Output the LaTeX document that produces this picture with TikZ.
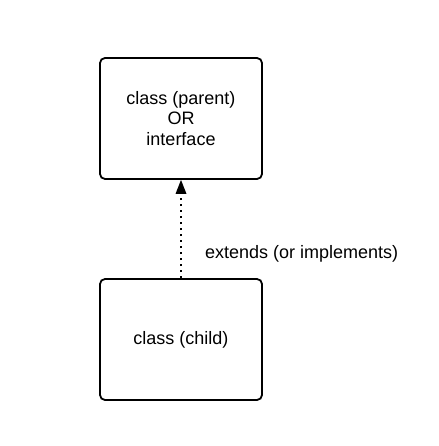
\documentclass[tikz,border=0pt]{standalone}
\usepackage{fontspec}
\setmainfont{Liberation Sans}
\usetikzlibrary{arrows.meta,calc}
\begin{document}
\begin{tikzpicture}[x=1pt,y=-1pt,
  box/.style={draw, line width=1.8pt, rounded corners=5pt, minimum width=162pt, minimum height=121pt, inner sep=0pt, font=\fontsize{18}{20.5}\selectfont, align=center},
  lbl/.style={font=\fontsize{18}{20}\selectfont, inner sep=0pt, anchor=west},
  conn/.style={line width=1.8pt, dash pattern=on 1.8pt off 4.2pt},
  tip/.style={fill=black, draw=none}]
\useasboundingbox (0,0) rectangle (438,446);
\node[box] (parent) at (181,118.5) {class (parent)\\OR\\interface};
\node[box] (child) at (181,339.5) {class (child)};
\draw[conn] (child.north) -- ([yshift=-15pt]parent.south);
\fill[tip] (parent.south) -- ([shift={(-5.5pt,-14pt)}]parent.south) -- ([shift={(5.5pt,-14pt)}]parent.south) -- cycle;
\node[lbl] (ext) at (205,254) {extends (or implements)};
\end{tikzpicture}
\end{document}
